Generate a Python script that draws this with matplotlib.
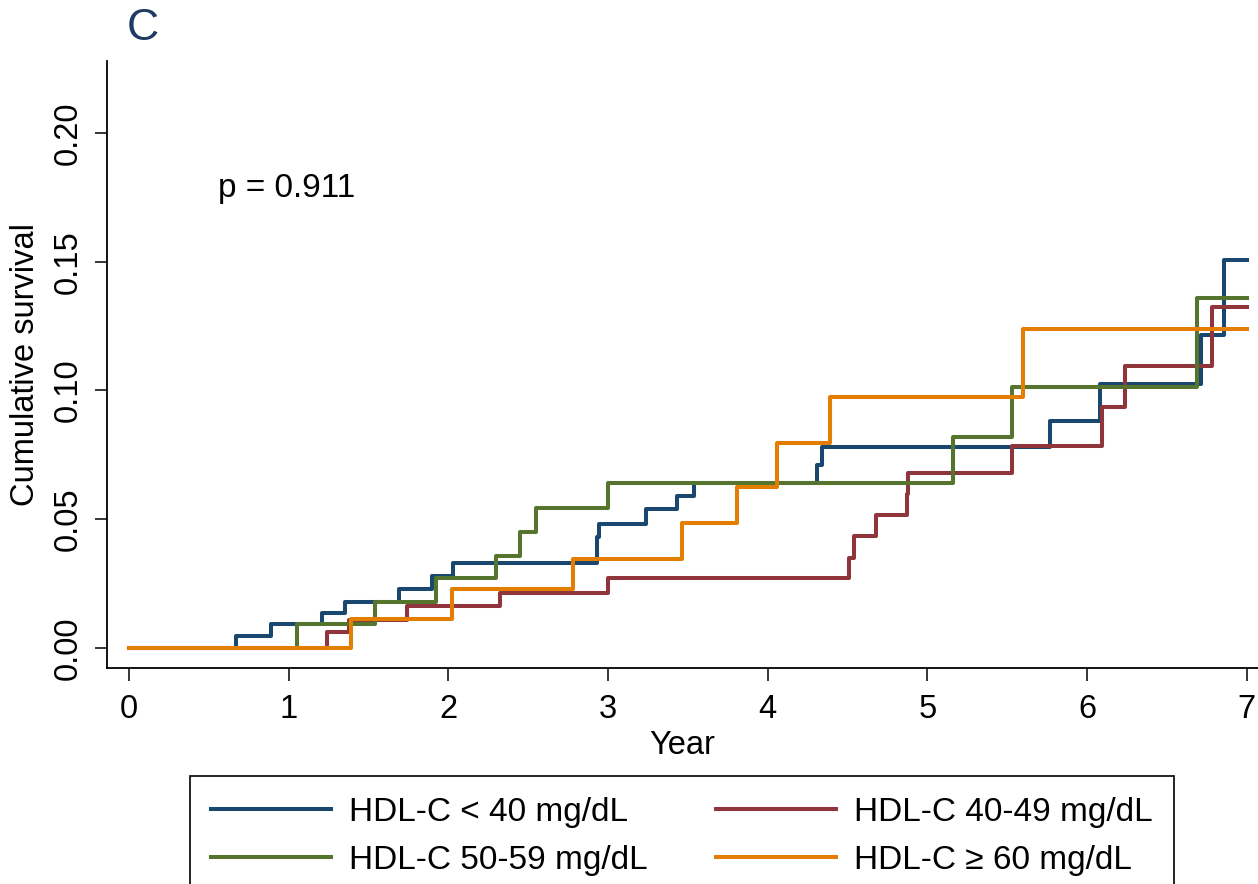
import matplotlib.pyplot as plt

plt.rcParams['font.family'] = ['Liberation Sans', 'DejaVu Sans']

# Kaplan-Meier style step data (time of step, cumulative value after step)
t_lt40 = [0, 0.67, 0.89, 1.21, 1.35, 1.69, 1.90, 2.03, 2.93, 2.94, 3.24, 3.43,
          3.54, 4.31, 4.34, 5.77, 6.08, 6.71, 6.86, 7.0]
y_lt40 = [0, 0.0047, 0.0093, 0.0136, 0.018, 0.023, 0.028, 0.033, 0.043, 0.048,
          0.054, 0.059, 0.064, 0.071, 0.078, 0.088, 0.1025, 0.1215, 0.1507,
          0.1507]

t_40_49 = [0, 1.24, 1.38, 1.74, 2.32, 3.00, 4.51, 4.54, 4.68, 4.87, 4.88,
           5.53, 6.09, 6.24, 6.78, 7.0]
y_40_49 = [0, 0.006, 0.011, 0.0163, 0.0214, 0.0272, 0.035, 0.0435, 0.0517,
           0.0598, 0.068, 0.0785, 0.0936, 0.1095, 0.1324, 0.1324]

t_50_59 = [0, 1.05, 1.54, 1.92, 2.30, 2.45, 2.55, 3.00, 5.16, 5.53, 6.69, 7.0]
y_50_59 = [0, 0.0093, 0.0179, 0.027, 0.0357, 0.045, 0.0544, 0.064, 0.082,
           0.1014, 0.136, 0.136]

t_ge60 = [0, 1.39, 2.02, 2.78, 3.46, 3.81, 4.06, 4.39, 5.60, 7.0]
y_ge60 = [0, 0.0113, 0.0229, 0.0346, 0.0485, 0.0625, 0.0796, 0.0975, 0.1239,
          0.1239]

labels = ['HDL-C < 40 mg/dL', 'HDL-C 40-49 mg/dL',
          'HDL-C 50-59 mg/dL', 'HDL-C \u2265 60 mg/dL']
colors = ['#1a476f', '#90353b', '#55752f', '#e37e00']

fig = plt.figure(figsize=(12.58, 8.84), dpi=100)
ax = fig.add_axes([107 / 1258, 1 - 668 / 884, 1 - 107 / 1258, (668 - 61) / 884])

series = [(t_lt40, y_lt40), (t_40_49, y_40_49), (t_50_59, y_50_59), (t_ge60, y_ge60)]
handles = []
for (t, y), c, lab in zip(series, colors, labels):
    h, = ax.step(t, y, where='post', color=c, lw=2.9, label=lab)
    handles.append(h)

ax.set_xlim(-0.138, 7.07)
ax.set_ylim(-0.0078, 0.228)
ax.set_xticks(range(8))
ax.set_yticks([0, 0.05, 0.10, 0.15, 0.20])
ax.set_yticklabels(['0.00', '0.05', '0.10', '0.15', '0.20'])
ax.tick_params(axis='both', direction='out', length=9, width=1.1, labelsize=23.5)
ax.tick_params(axis='x', pad=10)
ax.tick_params(axis='y', pad=8)
for lbl in ax.get_yticklabels():
    lbl.set_rotation(90)
    lbl.set_va('center')
for s in ['top', 'right']:
    ax.spines[s].set_visible(False)
for s in ['left', 'bottom']:
    ax.spines[s].set_linewidth(1.3)

ax.set_xlabel('Year', fontsize=23.5, labelpad=3)
ax.set_ylabel('Cumulative survival', fontsize=23.5, labelpad=8)

ax.text(0.557, 0.1786, 'p = 0.911', fontsize=24, ha='left', va='center')
fig.text(127 / 1258, 1 - 28 / 884, 'C', fontsize=32, color='#1f3a63',
         ha='left', va='center')

# legend order: row-wise as in the original
leg = fig.legend([handles[0], handles[2], handles[1], handles[3]],
                 [labels[0], labels[2], labels[1], labels[3]],
                 ncol=2, loc='upper left',
                 bbox_to_anchor=(190 / 1258, 1 - 776 / 884),
                 fontsize=24, frameon=True, fancybox=False, framealpha=1,
                 edgecolor='black', handlelength=3.6, handletextpad=0.55,
                 columnspacing=2.05, labelspacing=0.52, borderpad=0.62,
                 borderaxespad=0)
leg.get_frame().set_linewidth(1.2)

fig.savefig('out.png', dpi=100)
